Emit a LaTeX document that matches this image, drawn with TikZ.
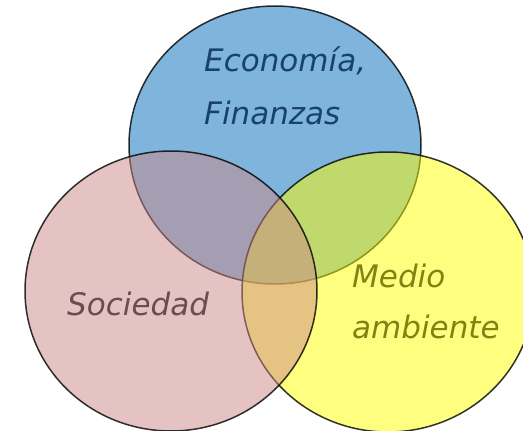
\documentclass[tikz,border=0pt]{standalone}
\usepackage{fontspec}
\setmainfont{DejaVu Sans}
\definecolor{econfill}{RGB}{0,105,185}
\definecolor{socfill}{RGB}{205,135,135}
\definecolor{envfill}{RGB}{255,255,0}
\definecolor{econtext}{RGB}{25,65,110}
\definecolor{soctext}{RGB}{110,75,80}
\definecolor{envtext}{RGB}{130,130,20}
\tikzset{
  setring/.style={draw=black, line width=1.5pt, draw opacity=0.8, fill opacity=0.5},
  setlabel/.style={inner sep=0pt, anchor=base west, font=\fontsize{31}{36}\itshape}
}
\begin{document}
\begin{tikzpicture}[x=1pt, y=-1pt]
				\useasboundingbox (0,0) rectangle (523,431);

				% Economia
				\draw[setring, fill=econfill] (275,145) ellipse [x radius=146, y radius=139];

				% Medio ambiente
				\draw[setring, fill=envfill] (388,292) ellipse [x radius=146, y radius=140];

				% Sociedad
				\draw[setring, fill=socfill] (171,291) ellipse [x radius=146, y radius=140];

				% Labels
				\node[setlabel, text=econtext] (econ) at (204,71) {Economía,};
				\node[setlabel, text=econtext] (fin) at (204,124) {Finanzas};
				\node[setlabel, text=soctext] (soc) at (67,315) {Sociedad};
				\node[setlabel, text=envtext] (medio) at (352,287) {Medio};
				\node[setlabel, text=envtext] (amb) at (352,338) {ambiente};
			\end{tikzpicture}
\end{document}
